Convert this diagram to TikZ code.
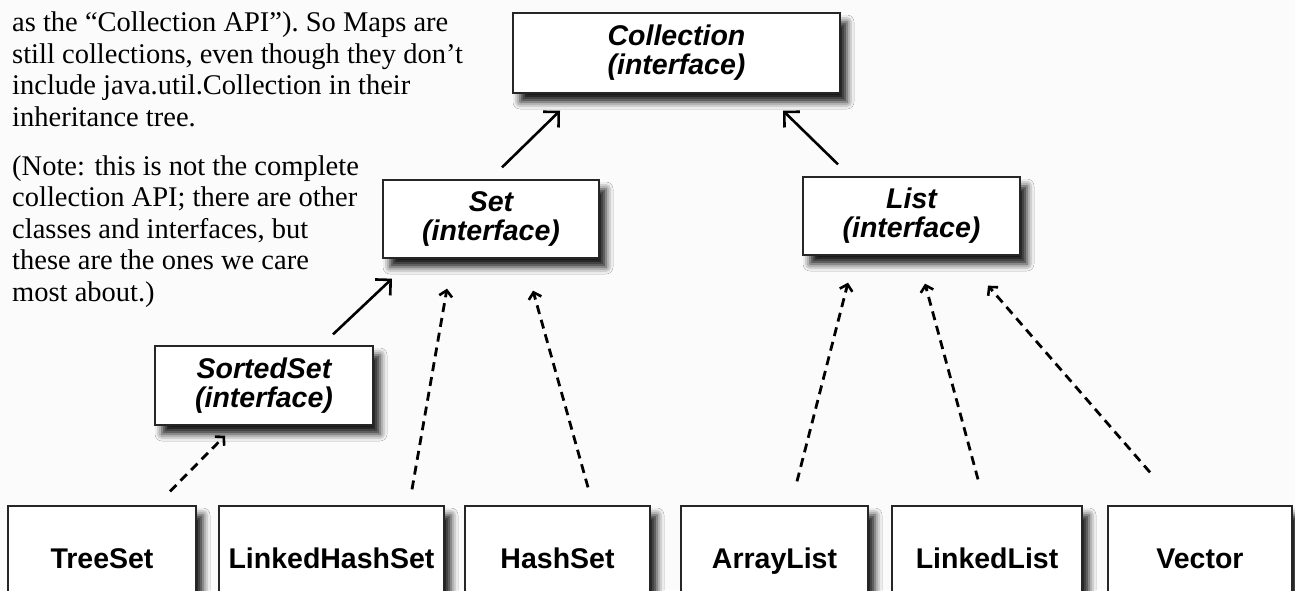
\documentclass[tikz,border=0pt]{standalone}
\usepackage{fontspec}
\setmainfont{Liberation Serif}
\newfontfamily\boxfont{Liberation Sans}
\usetikzlibrary{arrows.meta,shadows.blur}
\begin{document}
\begin{tikzpicture}[x=1pt,y=-1pt,
  ibox/.style={draw=black!85, line width=1.3pt, fill=white, inner sep=0pt, align=center,
     font=\boxfont\bfseries\itshape\fontsize{28.5}{29}\selectfont,
     blur shadow={shadow xshift=7pt, shadow yshift=-9pt, shadow blur radius=7pt, shadow opacity=90}},
  cbox/.style={ibox, font=\boxfont\bfseries\fontsize{28.5}{29}\selectfont, minimum height=108pt,
     text height=21pt, text depth=4pt},
  note/.style={anchor=base west, inner sep=0pt, font=\fontsize{28.5}{31.5}\selectfont},
  solidarr/.style={line width=2.6pt, -{Straight Barb[length=11pt,width=22pt,line width=2.6pt]}},
  dasharr/.style={line width=2.8pt, dash pattern=on 9pt off 6pt, -{Straight Barb[length=6pt,width=13pt,line width=2.6pt]}},
]
\useasboundingbox (0,0) rectangle (1295,590);
\clip (0,0) rectangle (1295,590);
\fill[gray!3] (0,0) rectangle (1295,590);

% left note text
\node[note] (t1) at (12,31.5) {as the “Collection API”). So Maps are};
\node[note] (t2) at (12,63) {still collections, even though they don’t};
\node[note] (t3) at (12,94.5) {include java.util.Collection in their};
\node[note] (t4) at (12,126) {inheritance tree.};
\node[note] (t5) at (12,175) {(Note: this is not the complete};
\node[note] (t6) at (12,206.5) {collection API; there are other};
\node[note] (t7) at (12,238) {classes and interfaces, but};
\node[note] (t8) at (12,269.5) {these are the ones we care};
\node[note] (t9) at (12,301) {most about.)};

% interface boxes
\node[ibox, minimum width=327pt, minimum height=80pt] (coll) at (676.5,53) {Collection\\(interface)};
\node[ibox, minimum width=216pt, minimum height=78pt] (set) at (491,219) {Set\\(interface)};
\node[ibox, minimum width=217pt, minimum height=78pt] (list) at (911.5,216) {List\\(interface)};
\node[ibox, minimum width=218pt, minimum height=79pt] (sorted) at (264,385.5) {SortedSet\\(interface)};

% class boxes
\node[cbox, minimum width=188pt] (tree) at (102,560) {TreeSet};
\node[cbox, minimum width=225pt] (lhs) at (331.5,560) {LinkedHashSet};
\node[cbox, minimum width=185pt] (hash) at (557.5,560) {HashSet};
\node[cbox, minimum width=187pt] (arr) at (774.5,560) {ArrayList};
\node[cbox, minimum width=190pt] (llist) at (987,560) {LinkedList};
\node[cbox, minimum width=184pt] (vec) at (1200,560) {Vector};

% extends arrows
\draw[solidarr] ([xshift=11pt,yshift=12pt]set.north) -- ([xshift=-116.5pt,yshift=-17pt]coll.south);
\draw[solidarr] ([xshift=-73.5pt,yshift=12pt]list.north) -- ([xshift=106.5pt,yshift=-17pt]coll.south);
\draw[solidarr] ([xshift=69pt,yshift=11pt]sorted.north) -- ([xshift=-99pt,yshift=-20pt]set.south);

% implements arrows
\draw[dasharr] ([xshift=68pt,yshift=14pt]tree.north) -- ([xshift=-39pt,yshift=-10pt]sorted.south);
\draw[dasharr] ([xshift=80.5pt,yshift=16pt]lhs.north) -- ([xshift=-44pt,yshift=-30pt]set.south);
\draw[dasharr] ([xshift=30.5pt,yshift=18pt]hash.north) -- ([xshift=42pt,yshift=-32pt]set.south);
\draw[dasharr] ([xshift=22.5pt,yshift=24pt]arr.north) -- ([xshift=-63.5pt,yshift=-27pt]list.south);
\draw[dasharr] ([xshift=-9pt,yshift=26pt]llist.north) -- ([xshift=13.5pt,yshift=-28pt]list.south);
\draw[dasharr] ([xshift=-50pt,yshift=33pt]vec.north) -- ([xshift=76.5pt,yshift=-30pt]list.south);
\end{tikzpicture}
\end{document}
